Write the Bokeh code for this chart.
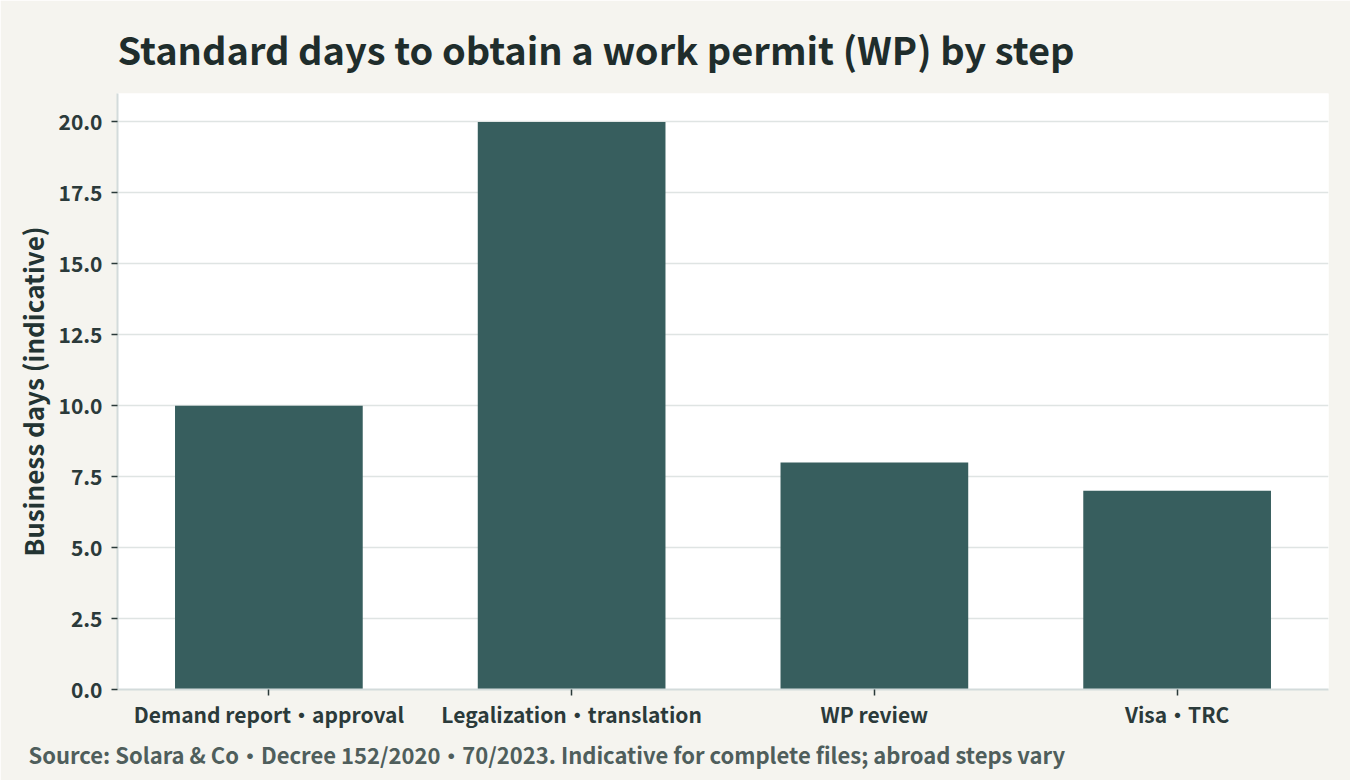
from bokeh.plotting import figure
from bokeh.models import Range1d, FactorRange, Title, ColumnDataSource, CustomJSTickFormatter
from bokeh.embed import file_html
from bokeh.resources import INLINE

categories = ["Demand report・approval", "Legalization・translation", "WP review", "Visa・TRC"]
days = [10, 20, 8, 7]
y_ticks = [0, 2.5, 5, 7.5, 10, 12.5, 15, 17.5, 20]
title_text = "Standard days to obtain a work permit (WP) by step"
y_label = "Business days (indicative)"
source_text = "Source: Solara & Co・Decree 152/2020・70/2023. Indicative for complete files; abroad steps vary"

FONT = "Noto Sans CJK JP"
BG = "#f5f4ef"

src = ColumnDataSource(data=dict(cat=categories, days=days))

p = figure(width=1350, height=780, x_range=FactorRange(*categories, range_padding=0),
           y_range=Range1d(0, 21), output_backend="svg", toolbar_location=None,
           min_border_left=117, min_border_right=22, min_border_top=92, min_border_bottom=91)
p.background_fill_color = "white"
p.border_fill_color = BG
p.outline_line_color = None

p.vbar(x="cat", top="days", width=0.62, source=src, fill_color="#375e5e", line_color=None)

t = Title(text=title_text, align="left",
          text_font=FONT, text_font_size="38px", text_font_style="bold",
          text_color="#1f2d2c", standoff=36)
p.add_layout(t, "above")

cap = Title(text=source_text, align="left", offset=-89,
            text_font=FONT, text_font_size="22px", text_font_style="bold",
            text_color="#4f5e5c", standoff=8)
p.add_layout(cap, "below")

p.yaxis.ticker = y_ticks
p.yaxis.formatter = CustomJSTickFormatter(code="return tick.toFixed(1);")
p.yaxis.axis_label = y_label
p.yaxis.axis_label_text_font = FONT
p.yaxis.axis_label_text_font_size = "26px"
p.yaxis.axis_label_text_font_style = "bold"
p.yaxis.axis_label_text_color = "#233433"
p.yaxis.axis_label_standoff = 5

for ax in (p.xaxis, p.yaxis):
    ax.major_label_text_font = FONT
    ax.major_label_text_font_size = "21px"
    ax.major_label_text_font_style = "bold"
    ax.major_label_text_color = "#2b3a3a"
    ax.axis_line_color = "#d3dbdb"
    ax.axis_line_width = 2
    ax.major_tick_line_color = "#2b3a3a"
    ax.major_tick_line_width = 1.5
    ax.major_tick_in = 0
    ax.major_tick_out = 6
    ax.minor_tick_line_color = None
p.yaxis.major_label_standoff = 9
p.xaxis.major_label_standoff = 3

p.xgrid.grid_line_color = None
p.ygrid.grid_line_color = "#dfe4e3"
p.ygrid.grid_line_width = 1.5

open("out.html", "w").write(file_html(p, INLINE))
